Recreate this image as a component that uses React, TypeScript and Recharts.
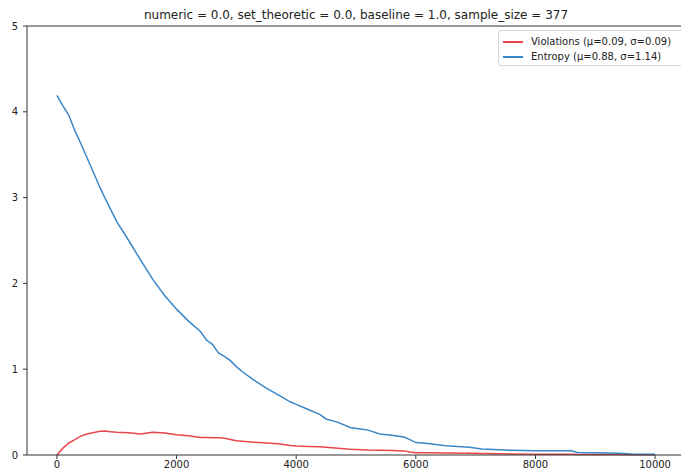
import { LineChart, Line, XAxis, YAxis, ReferenceLine, Legend } from 'recharts';

const steps = [
  0, 100, 200, 300, 400, 500, 600, 700, 800, 900, 1000, 1200, 1400, 1600, 1800, 2000, 2200, 2400, 2500,
  2600, 2700, 2800, 2900, 3000, 3100, 3300, 3500, 3700, 3900, 4000, 4200, 4400, 4500, 4700, 4900, 5100,
  5200, 5400, 5600, 5800, 5900, 6000, 6200, 6500, 6900, 7100, 7400, 7600, 8000, 8600, 8700, 9000, 9400,
  9600, 10000,
];

const violations = [
  0, 0.08, 0.14, 0.18, 0.22, 0.245, 0.26, 0.275, 0.28, 0.27, 0.265, 0.26, 0.245, 0.265, 0.255, 0.235, 0.225,
  0.205, 0.205, 0.2, 0.2, 0.195, 0.18, 0.165, 0.16, 0.15, 0.14, 0.13, 0.11, 0.105, 0.1, 0.095, 0.09, 0.08,
  0.068, 0.062, 0.058, 0.055, 0.052, 0.048, 0.035, 0.027, 0.025, 0.022, 0.02, 0.018, 0.014, 0.012, 0.01,
  0.008, 0.007, 0.006, 0.005, 0.004, 0.003,
];

const entropy = [
  4.19, 4.07, 3.96, 3.78, 3.63, 3.47, 3.31, 3.15, 3.0, 2.86, 2.72, 2.5, 2.27, 2.05, 1.86, 1.7, 1.56, 1.44,
  1.34, 1.29, 1.19, 1.15, 1.1, 1.03, 0.97, 0.87, 0.78, 0.7, 0.62, 0.59, 0.53, 0.47, 0.42, 0.38, 0.32, 0.3,
  0.29, 0.245, 0.23, 0.21, 0.18, 0.145, 0.135, 0.108, 0.09, 0.07, 0.06, 0.055, 0.05, 0.05, 0.03, 0.027,
  0.02, 0.012, 0.01,
];

const xTicks = [0, 2000, 4000, 6000, 8000, 10000];
const yTicks = [0, 1, 2, 3, 4, 5];
const title = 'numeric = 0.0, set_theoretic = 0.0, baseline = 1.0, sample_size = 377';
const legendItems = [
  { label: 'Violations (μ=0.09, σ=0.09)', color: '#e8474a' },
  { label: 'Entropy (μ=0.88, σ=1.14)', color: '#3a87c8' },
];

const data = steps.map((x, i) => ({ x, violations: violations[i], entropy: entropy[i] }));

const font = '"DejaVu Sans", sans-serif';
const axisColor = '#333';

function LegendBox() {
  return (
    <div
      style={{
        position: 'absolute',
        left: 498,
        top: 30,
        width: 190,
        height: 36,
        border: '1px solid #d6d6d6',
        borderRadius: 3,
        background: 'rgba(255,255,255,0.8)',
        fontFamily: font,
        fontSize: 10,
        color: '#222',
        boxSizing: 'border-box',
        paddingTop: 3,
      }}
    >
      {legendItems.map(it => (
        <div key={it.label} style={{ display: 'flex', alignItems: 'center', height: 15 }}>
          <span style={{ display: 'inline-block', width: 20, height: 2, background: it.color, marginLeft: 4, marginRight: 8 }} />
          <span>{it.label}</span>
        </div>
      ))}
    </div>
  );
}

export default function App() {
  return (
    <div style={{ position: 'fixed', left: 0, top: 0, width: 681, height: 473, overflow: 'hidden', background: '#fff' }}>
      <div
        style={{
          position: 'absolute',
          left: 27,
          width: 658,
          top: 8,
          textAlign: 'center',
          fontFamily: font,
          fontSize: 12,
          color: '#222',
        }}
      >
        {title}
      </div>
      <LineChart width={700} height={473} data={data} margin={{ top: 26, right: 15, bottom: 0, left: 0 }}>
        <XAxis
          dataKey="x"
          type="number"
          domain={[-500, 10500]}
          ticks={xTicks}
          allowDataOverflow
          height={18}
          tickSize={4}
          tickMargin={2}
          stroke={axisColor}
          tick={{ fill: '#222', fontSize: 10, fontFamily: font }}
        />
        <YAxis
          type="number"
          domain={[0, 5]}
          ticks={yTicks}
          width={27}
          tickSize={4}
          tickMargin={5}
          stroke={axisColor}
          tick={{ fill: '#222', fontSize: 10, fontFamily: font }}
        />
        <ReferenceLine y={5} stroke={axisColor} />
        <ReferenceLine x={10500} stroke={axisColor} />
        <Legend content={() => <LegendBox />} wrapperStyle={{ position: 'absolute', left: 0, top: 0 }} />
        <Line type="linear" dataKey="violations" stroke="#e8474a" strokeWidth={1.5} dot={false} isAnimationActive={false} />
        <Line type="linear" dataKey="entropy" stroke="#3a87c8" strokeWidth={1.5} dot={false} isAnimationActive={false} />
      </LineChart>
    </div>
  );
}
